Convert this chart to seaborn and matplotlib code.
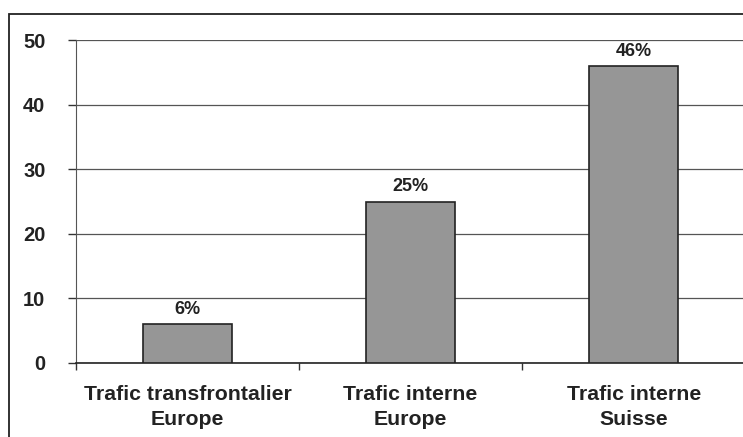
import matplotlib
matplotlib.use("Agg")
import matplotlib.pyplot as plt
from matplotlib.patches import Rectangle
from matplotlib.ticker import FixedLocator
import seaborn as sns
import pandas as pd

categories = ["Trafic transfrontalier\nEurope", "Trafic interne\nEurope", "Trafic interne\nSuisse"]
values = [6, 25, 46]
value_labels = ["6%", "25%", "46%"]
y_ticks = [0, 10, 20, 30, 40, 50]

sns.set_style("white")
plt.rcParams["font.family"] = ["Liberation Sans", "DejaVu Sans"]
plt.rcParams["font.weight"] = "bold"

df = pd.DataFrame({"categorie": categories, "valeur": values})

fig = plt.figure(figsize=(7.43, 4.37), dpi=100)
ax = fig.add_axes([76 / 743, 1 - 363 / 437, 1.0 - 76 / 743 + 0.003, (363 - 40) / 437])

sns.barplot(data=df, x="categorie", y="valeur", ax=ax, color="#969696",
            saturation=1, width=0.40, edgecolor="#222222", linewidth=1.2, zorder=3)

ax.set_ylim(0, 50)
ax.set_xlim(-0.5, 2.5)
ax.set_yticks(y_ticks)
ax.set_yticklabels([str(v) for v in y_ticks], fontsize=14.5, fontweight="bold", color="#222222")
ax.grid(axis="y", color="#555555", linewidth=0.9, zorder=0)
ax.set_axisbelow(True)

ax.set_xlabel("")
ax.set_ylabel("")
ax.set_xticks(range(len(categories)))
ax.set_xticklabels(categories, fontsize=15.3, fontweight="bold", color="#222222", linespacing=1.4)
ax.tick_params(axis="x", which="major", length=0, pad=16)
ax.xaxis.set_minor_locator(FixedLocator([-0.5, 0.5, 1.5, 2.5]))
ax.tick_params(axis="x", which="minor", bottom=True, length=5, width=1, color="#333333", direction="out")
ax.tick_params(axis="y", left=True, length=6, width=1, color="#333333", direction="out", pad=16)

for s in ["top", "right"]:
    ax.spines[s].set_visible(False)
ax.spines["left"].set_color("#555555")
ax.spines["bottom"].set_color("#222222")
ax.spines["bottom"].set_linewidth(1.2)

for i, (v, lab) in enumerate(zip(values, value_labels)):
    ax.annotate(lab, (i, v), xytext=(0, 4.5), textcoords="offset points",
                ha="center", va="bottom", fontsize=13, fontweight="bold", color="#222222")

# outer frame around the chart area
fig.patches.append(Rectangle((9 / 743, -0.1), 1.2, 1 - 14 / 437 + 0.1,
                             transform=fig.transFigure, fill=False,
                             edgecolor="#222222", linewidth=1.3))

fig.savefig("out.png", dpi=100)
